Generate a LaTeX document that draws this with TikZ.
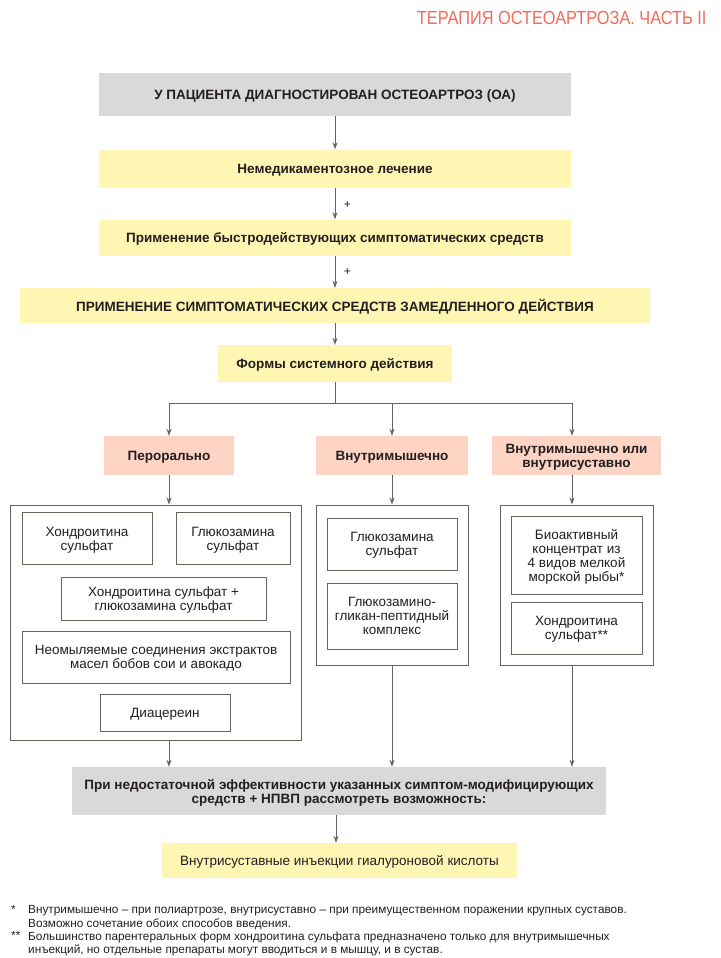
\documentclass[tikz,border=0pt]{standalone}
\usepackage{fontspec}
\setmainfont{Liberation Sans}
\newfontfamily\condfont[FakeStretch=0.86]{Liberation Sans}
\usepackage{tikz}
\usetikzlibrary{arrows.meta, positioning, calc}
\definecolor{titlesalmon}{HTML}{F26B5B}
\definecolor{boxgrey}{HTML}{D9D9D9}
\definecolor{boxyellow}{HTML}{FFF6B3}
\definecolor{boxpink}{HTML}{FDD3C3}
\definecolor{linebrown}{HTML}{6A625B}
\definecolor{textdark}{HTML}{231F20}

\begin{document}
\begin{tikzpicture}[x=1pt, y=-1pt, text=textdark,
    headbox/.style={inner sep=0pt, text depth=-1.5pt, align=center, font=\bfseries\fontsize{13.5}{14}\selectfont},
    greybox/.style={headbox, fill=boxgrey},
    yellowbox/.style={headbox, fill=boxyellow},
    routebox/.style={headbox, fill=boxpink},
    groupbox/.style={draw=linebrown, line width=0.9pt, fill=white},
    drugbox/.style={draw=linebrown, line width=0.9pt, inner sep=0pt, text depth=-1.5pt, align=center, font=\fontsize{13.5}{14}\selectfont},
    arr/.style={draw=linebrown, line width=0.9pt, -{Stealth[length=7pt, width=5pt]}},
    link/.style={draw=linebrown, line width=0.9pt}]
    \useasboundingbox[fill=white] (0,0) rectangle (720,958);

    % Title
    \node[anchor=east, text=titlesalmon, font=\condfont\fontsize{19}{20}\selectfont] (title) at (710,18) {ТЕРАПИЯ ОСТЕОАРТРОЗА. ЧАСТЬ II};

    % Main chain
    \node[greybox, minimum width=472pt, minimum height=43pt] (diag) at (335,94.5) {У ПАЦИЕНТА ДИАГНОСТИРОВАН ОСТЕОАРТРОЗ (ОА)};
    \node[yellowbox, minimum width=472pt, minimum height=38pt] (nonmed) at (335,168.5) {Немедикаментозное лечение};
    \node[yellowbox, minimum width=472pt, minimum height=36pt] (fast) at (335,237.5) {Применение быстродействующих симптоматических средств};
    \node[yellowbox, minimum width=630pt, minimum height=35pt] (slow) at (335,305.5) {ПРИМЕНЕНИЕ СИМПТОМАТИЧЕСКИХ СРЕДСТВ ЗАМЕДЛЕННОГО ДЕЙСТВИЯ};
    \node[yellowbox, minimum width=234pt, minimum height=37pt] (forms) at (335,363.5) {Формы системного действия};

    % Routes
    \node[routebox, minimum width=130pt, minimum height=39pt] (pero) at (169,455.5) {Перорально};
    \node[routebox, minimum width=152pt, minimum height=39pt] (intram) at (392,455.5) {Внутримышечно};
    \node[routebox, minimum width=169pt, minimum height=39pt] (combo) at (576.5,455.5) {Внутримышечно или\\внутрисуставно};

    % Group frames
    \node[groupbox, minimum width=291pt, minimum height=235pt] (peroall) at (155.5,622.5) {};
    \node[groupbox, minimum width=152pt, minimum height=160pt] (intramall) at (392,585) {};
    \node[groupbox, minimum width=153pt, minimum height=160pt] (comboall) at (576.5,585) {};

    % Oral drugs
    \node[drugbox, minimum width=130pt, minimum height=52pt] (chond) at (87,538.5) {Хондроитина\\сульфат};
    \node[drugbox, minimum width=114pt, minimum height=52pt] (gluc) at (233,538.5) {Глюкозамина\\сульфат};
    \node[drugbox, minimum width=205pt, minimum height=43pt] (chgl) at (163.5,598.5) {Хондроитина сульфат +\\глюкозамина сульфат};
    \node[drugbox, minimum width=268pt, minimum height=52pt] (soy) at (156,657) {Неомыляемые соединения экстрактов\\масел бобов сои и авокадо};
    \node[drugbox, minimum width=130pt, minimum height=37pt] (diac) at (165,712.5) {Диацереин};

    % Intramuscular drugs
    \node[drugbox, minimum width=130pt, minimum height=52pt] (glucim) at (392,544) {Глюкозамина\\сульфат};
    \node[drugbox, minimum width=130pt, minimum height=66pt] (ggpk) at (392,616) {Глюкозамино-\\гликан-пептидный\\комплекс};

    % Intramuscular or intra-articular drugs
    \node[drugbox, minimum width=131pt, minimum height=78pt] (fish) at (576.5,555) {Биоактивный\\концентрат из\\4 видов мелкой\\морской рыбы*};
    \node[drugbox, minimum width=131pt, minimum height=52pt] (chondia) at (576.5,628) {Хондроитина\\сульфат**};

    % Escalation
    \node[greybox, minimum width=534pt, minimum height=48pt] (gap) at (339,791) {При недостаточной эффективности указанных симптом-модифицирующих\\средств + НПВП рассмотреть возможность:};
    \node[yellowbox, font=\fontsize{13.5}{14}\selectfont, minimum width=355pt, minimum height=35pt] (hyal) at (339.5,860.5) {Внутрисуставные инъекции гиалуроновой кислоты};

    % Connectors
    \draw[arr] (diag) -- (nonmed);
    \draw[arr] (nonmed) -- node[right=5pt, yshift=-2pt, font=\fontsize{12}{12}\selectfont] (plusa) {+} (fast);
    \draw[arr] (fast) -- node[right=5pt, font=\fontsize{12}{12}\selectfont] (plusb) {+} (slow);
    \draw[arr] (slow) -- (forms);
    \coordinate (fork) at (335,403);
    \draw[link] (forms) -- (fork);
    \draw[arr] (fork) -| (pero.north);
    \draw[arr] (fork) -| (intram.north);
    \draw[arr] (fork) -| ([xshift=-4.5pt]combo.north);
    \draw[arr] (pero.south) -- (pero.south |- peroall.north);
    \draw[arr] (intram.south) -- (intram.south |- intramall.north);
    \draw[arr] ([xshift=-4.5pt]combo.south) -- ([xshift=-4.5pt]combo.south |- comboall.north);
    \draw[arr] (pero |- peroall.south) -- (pero |- gap.north);
    \draw[arr] (intram |- intramall.south) -- (intram |- gap.north);
    \draw[arr] ([xshift=-4.5pt]combo.south |- comboall.south) -- ([xshift=-4.5pt]combo.south |- gap.north);
    \draw[arr] (gap.south -| 336,0) -- (hyal.north -| 336,0);

    % Footnotes
    \node[anchor=north west, inner sep=0pt, font=\fontsize{11.8}{13.2}\selectfont] (stara) at (11,905.5) {*};
    \node[anchor=north west, inner sep=0pt, align=left, font=\fontsize{11.8}{13.2}\selectfont] (notea) at (28,905.5) {Внутримышечно – при полиартрозе, внутрисуставно – при преимущественном поражении крупных суставов.\\Возможно сочетание обоих способов введения.};
    \node[anchor=north west, inner sep=0pt, font=\fontsize{11.8}{13.2}\selectfont] (starb) at (11,931.5) {**};
    \node[anchor=north west, inner sep=0pt, align=left, font=\fontsize{11.8}{13.2}\selectfont] (noteb) at (28,931.5) {Большинство парентеральных форм хондроитина сульфата предназначено только для внутримышечных\\инъекций, но отдельные препараты могут вводиться и в мышцу, и в сустав.};
\end{tikzpicture}
\end{document}
